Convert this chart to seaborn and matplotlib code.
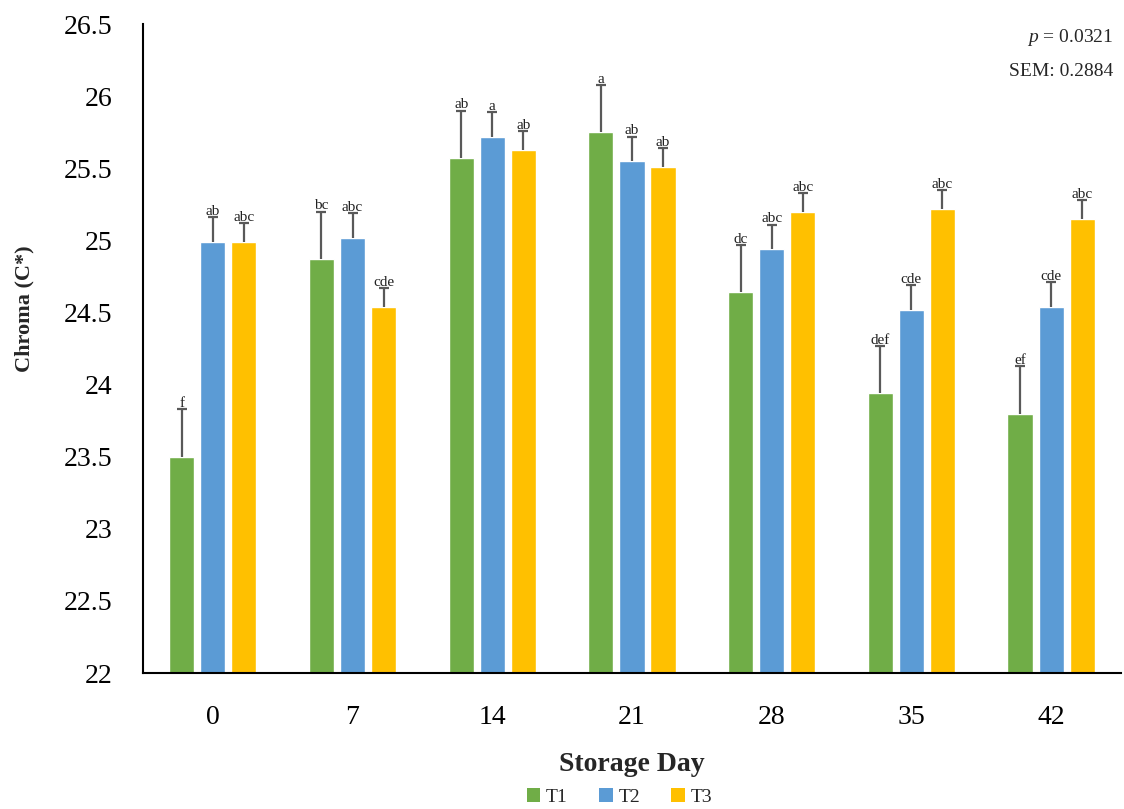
import matplotlib
matplotlib.use("Agg")
import matplotlib.pyplot as plt
import seaborn as sns
import pandas as pd
from matplotlib.patches import Patch

# Storage days and treatments
days = ["0", "7", "14", "21", "28", "35", "42"]
treatments = ["T1", "T2", "T3"]

# Mean chroma (C*) per treatment and day
t1_vals = [23.50, 24.87, 25.57, 25.75, 24.64, 23.94, 23.80]
t2_vals = [24.99, 25.02, 25.72, 25.55, 24.94, 24.52, 24.54]
t3_vals = [24.99, 24.54, 25.63, 25.51, 25.20, 25.22, 25.15]

# Standard errors (upper bars only)
t1_err = [0.33, 0.33, 0.33, 0.33, 0.33, 0.33, 0.33]
t2_err = [0.17, 0.17, 0.17, 0.17, 0.17, 0.17, 0.17]
t3_err = [0.13, 0.13, 0.13, 0.13, 0.13, 0.13, 0.13]

# Significance letters
t1_letters = ["f", "bc", "ab", "a", "dc", "def", "ef"]
t2_letters = ["ab", "abc", "a", "ab", "abc", "cde", "cde"]
t3_letters = ["abc", "cde", "ab", "ab", "abc", "abc", "abc"]

y_ticks = [22, 22.5, 23, 23.5, 24, 24.5, 25, 25.5, 26, 26.5]
y_tick_labels = ["22", "22.5", "23", "23.5", "24", "24.5", "25", "25.5", "26", "26.5"]

colors = ["#70AD47", "#5B9BD5", "#FFC000"]

sns.set_theme(style="white")
plt.rcParams["font.family"] = ["Liberation Serif", "DejaVu Serif"]
plt.rcParams["mathtext.fontset"] = "custom"
plt.rcParams["mathtext.rm"] = "Liberation Serif"
plt.rcParams["mathtext.it"] = "Liberation Serif:italic"

rows = []
for t, vals, errs, letters in zip(treatments, [t1_vals, t2_vals, t3_vals],
                                  [t1_err, t2_err, t3_err],
                                  [t1_letters, t2_letters, t3_letters]):
    for d, v, e, l in zip(days, vals, errs, letters):
        rows.append({"day": d, "treatment": t, "chroma": v, "se": e, "letter": l})
df = pd.DataFrame(rows)

fig = plt.figure(figsize=(11.24, 8.09), dpi=100)
ax = fig.add_axes([0.1272, 0.168, 0.8701, 0.802])

sns.barplot(data=df, x="day", y="chroma", hue="treatment", order=days,
            hue_order=treatments, palette=colors, errorbar=None,
            width=0.667, gap=0.19, saturation=1, legend=False, ax=ax)

# Upper error bars and letters drawn from the bar geometry
err_color = "#595959"
for cont, t in zip(ax.containers, treatments):
    sub = df[df.treatment == t].set_index("day").loc[days]
    xs = [b.get_x() + b.get_width() / 2 for b in cont]
    hs = [b.get_height() for b in cont]
    errs = sub["se"].tolist()
    tops = [h + e for h, e in zip(hs, errs)]
    ax.vlines(xs, hs, tops, colors=err_color, linewidth=1.6, zorder=3)
    ax.plot(xs, tops, ls="none", marker="_", ms=7, mew=1.6, color=err_color,
            zorder=3)
    for x, top, l in zip(xs, tops, sub["letter"].tolist()):
        ax.text(x, top - 0.005, l, ha="center", va="bottom", fontsize=11,
                color="#222222")

ax.set_ylim(22, 26.5)
ax.set_xlim(-0.5, 6.5)
ax.set_yticks(y_ticks)
ax.set_yticklabels(y_tick_labels)
ax.tick_params(axis="both", length=0, labelsize=20, colors="black")
ax.tick_params(axis="y", pad=22)
ax.tick_params(axis="x", pad=23)

for side in ["top", "right"]:
    ax.spines[side].set_visible(False)
for side in ["left", "bottom"]:
    ax.spines[side].set_color("black")
    ax.spines[side].set_linewidth(1.5)

ax.set_xlabel("Storage Day", fontsize=20, fontweight="bold", labelpad=16)
ax.set_ylabel("Chroma (C*)", fontsize=16, fontweight="bold")
ax.yaxis.set_label_coords(-0.111, 0.562)

fig.text(1113 / 1124, 1 - 37 / 809, "$p$ = 0.0321", ha="right", va="center",
         fontsize=14)
fig.text(1113 / 1124, 1 - 72 / 809, "SEM: 0.2884", ha="right", va="center",
         fontsize=14)

handles = [Patch(facecolor=c, edgecolor="none", label=t)
           for c, t in zip(colors, treatments)]
fig.legend(handles=handles, loc="center", bbox_to_anchor=(619.5 / 1124, 1 - 797 / 809),
           ncol=3, frameon=False, fontsize=14, handlelength=0.7,
           handleheight=0.7, handletextpad=0.3, columnspacing=1.6)

fig.savefig("out.png", dpi=100)
